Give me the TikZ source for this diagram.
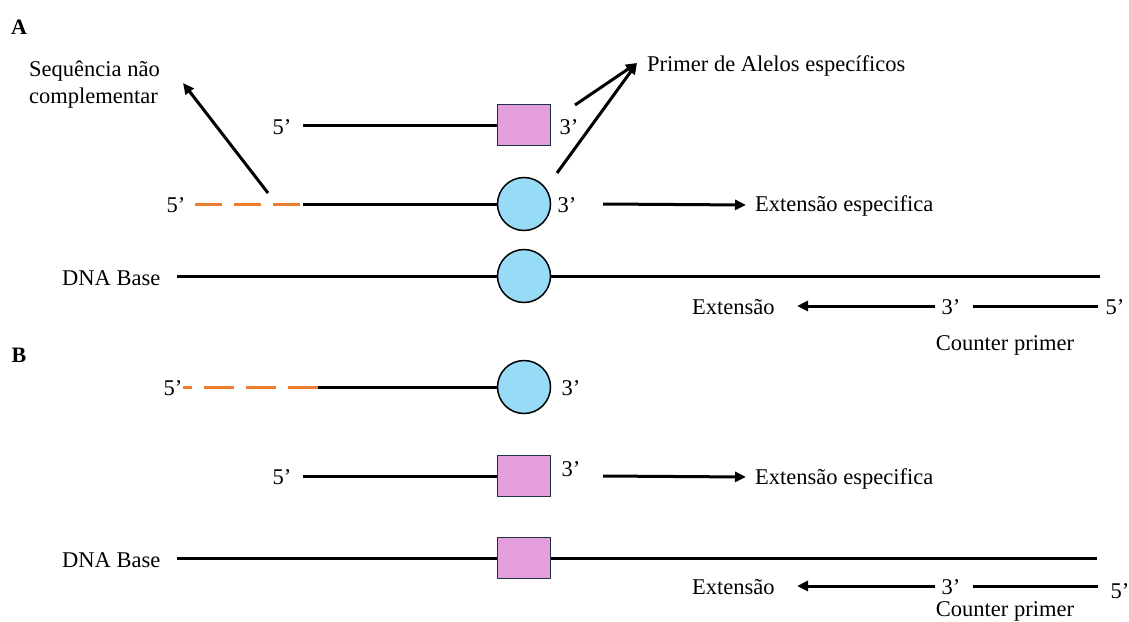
\documentclass[tikz,border=0pt]{standalone}
\usepackage{fontspec}
\setmainfont{Liberation Serif}
\usetikzlibrary{arrows.meta}
\definecolor{pinkc}{HTML}{E39EDB}
\definecolor{bluec}{HTML}{97DBF7}
\definecolor{orangec}{HTML}{ED7D31}
\definecolor{outl}{HTML}{1F3344}
\tikzset{
 lbl/.style={font=\fontsize{22.5}{27}\selectfont, inner sep=0pt},
 hdr/.style={font=\fontsize{22}{27}\selectfont\bfseries, inner sep=0pt},
 strand/.style={line width=3pt},
 arr/.style={line width=3pt, -{Triangle[length=11pt,width=10pt]}},
 sq/.style={draw=outl, line width=1.5pt, fill=pinkc, minimum width=53pt, minimum height=41pt, inner sep=0pt},
 ball/.style={circle, draw=black, line width=1.5pt, fill=bluec, minimum size=53pt, inner sep=0pt},
 dashstrand/.style={draw=orangec, line width=3pt},
}
\begin{document}
\begin{tikzpicture}[x=1pt,y=-1pt]
\useasboundingbox (0,0) rectangle (1129,621);
% ---------- A ----------
\node[hdr] (A) at (19,27) {A};
\node[lbl, anchor=west, align=left] (seq) at (29,85) {Sequência não\\complementar};
\coordinate (seqS) at (268,193);
\coordinate (seqE) at (183,83);
\draw[arr] (seqS) -- (seqE);

% row 1
\node[lbl] (a5a) at (282,127) {5’};
\node[sq] (aSq) at (524,125) {};
\coordinate (a1L) at (303,125);
\draw[strand] (a1L) -- (aSq.west);
\node[lbl] (a3a) at (569,127) {3’};

% primer label
\node[lbl, anchor=west] (primer) at (647,66) {Primer de Alelos específicos};
\coordinate (pTip) at (637,63);
\coordinate (p1) at (575,105);
\coordinate (p2) at (557,173);
\draw[arr] (p1) -- (pTip);
\draw[arr] (p2) -- (pTip);

% row 2
\node[lbl] (a5b) at (176,205) {5’};
\node[ball] (aBall) at (524,204) {};
\coordinate (a2D) at (195,204);
\coordinate (a2M) at (303,204);
\draw[dashstrand, dash pattern=on 27pt off 12pt] (a2D) -- (a2M);
\draw[strand] (a2M) -- (aBall.west);
\node[lbl] (a3b) at (567,205) {3’};
\coordinate (aExS) at (603,204);
\coordinate (aExE) at (746,205);
\node[lbl, anchor=west] (aExt) at (755,206) {Extensão especifica};
\draw[arr] (aExS) -- (aExE);

% DNA base A
\node[lbl, anchor=west] (aDNA) at (62,278) {DNA Base};
\node[ball] (aBall2) at (524,276) {};
\coordinate (aDL) at (177,276);
\coordinate (aDR) at (1100,276);
\draw[strand] (aDL) -- (aBall2.west);
\draw[strand] (aBall2.east) -- (aDR);

% counter primer A
\node[lbl, anchor=west] (aExt2) at (692,307) {Extensão};
\node[lbl] (aC3) at (951,307) {3’};
\node[lbl] (aC5) at (1115,307) {5’};
\coordinate (aCa) at (935,306);
\coordinate (aCb) at (797,306);
\coordinate (aCc) at (973,306);
\coordinate (aCd) at (1098,306);
\draw[arr] (aCa) -- (aCb);
\draw[strand] (aCc) -- (aCd);
\node[lbl] (aCP) at (1005,345) {Counter primer};

% ---------- B ----------
\node[hdr] (B) at (19,355) {B};

% row 1
\node[lbl] (b5a) at (173,388) {5’};
\node[ball] (bBall) at (524,387) {};
\coordinate (b1D) at (318,387);
\coordinate (b1E) at (183,387);
\draw[dashstrand, dash pattern=on 30pt off 12pt] (b1D) -- (b1E);
\draw[strand] (b1D) -- (bBall.west);
\node[lbl] (b3a) at (571,388) {3’};

% row 2
\node[lbl] (b5b) at (282,477) {5’};
\node[sq] (bSq) at (524,476) {};
\coordinate (b2L) at (303,476);
\draw[strand] (b2L) -- (bSq.west);
\node[lbl] (b3b) at (571,469) {3’};
\coordinate (bExS) at (603,476);
\coordinate (bExE) at (746,477);
\node[lbl, anchor=west] (bExt) at (755,479) {Extensão especifica};
\draw[arr] (bExS) -- (bExE);

% DNA base B
\node[lbl, anchor=west] (bDNA) at (62,560) {DNA Base};
\node[sq] (bSq2) at (524,558) {};
\coordinate (bDL) at (177,558);
\coordinate (bDR) at (1097,558);
\draw[strand] (bDL) -- (bSq2.west);
\draw[strand] (bSq2.east) -- (bDR);

% counter primer B
\node[lbl, anchor=west] (bExt2) at (692,587) {Extensão};
\node[lbl] (bC3) at (951,587) {3’};
\node[lbl] (bC5) at (1120,591) {5’};
\coordinate (bCa) at (935,586);
\coordinate (bCb) at (797,586);
\coordinate (bCc) at (973,586);
\coordinate (bCd) at (1098,586);
\draw[arr] (bCa) -- (bCb);
\draw[strand] (bCc) -- (bCd);
\node[lbl] (bCP) at (1005,611) {Counter primer};
\end{tikzpicture}
\end{document}
